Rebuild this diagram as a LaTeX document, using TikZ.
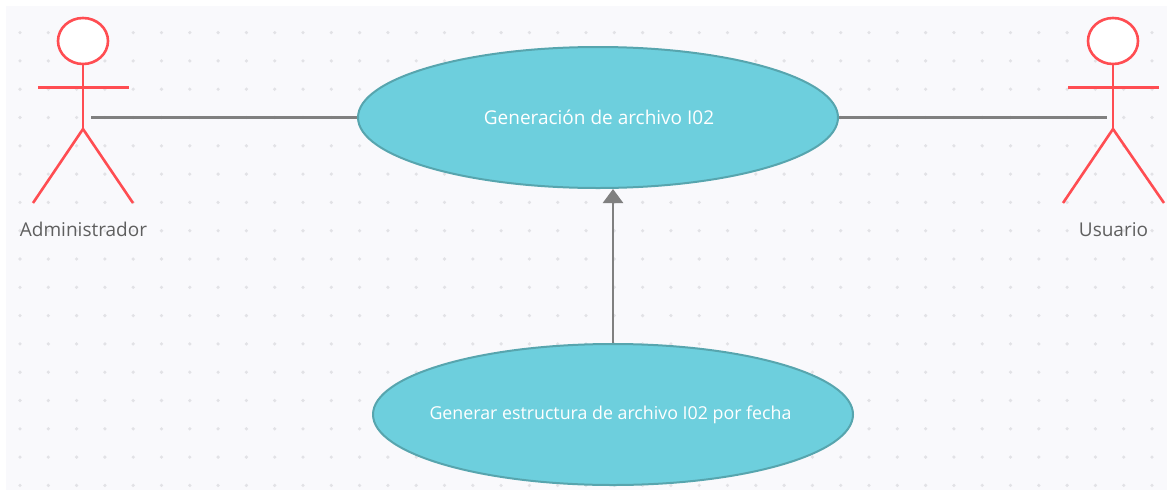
\documentclass[tikz,border=0pt]{standalone}
\usepackage{fontspec}
\setmainfont{Open Sans}
\usetikzlibrary{shapes.geometric,arrows.meta}
\definecolor{bgc}{HTML}{F9F9FC}
\definecolor{dotc}{HTML}{E2E2E6}
\definecolor{tealf}{HTML}{6DCFDD}
\definecolor{teald}{HTML}{57A5AE}
\definecolor{redl}{HTML}{FF4D52}
\definecolor{grayl}{HTML}{808080}
\definecolor{txt}{HTML}{5F5F5F}
\newcommand{\zerow}[2]{\raisebox{-1pt}{\makebox[0pt]{\hspace*{#1}#2}}}
\tikzset{
  usecase/.style={ellipse,draw=teald,fill=tealf,line width=2pt,minimum width=480pt,minimum height=141pt,inner sep=0pt,text=white},
  limb/.style={draw=redl,line width=2.6pt},
  headshape/.style={ellipse,draw=redl,fill=white,line width=2.6pt,minimum width=50pt,minimum height=46pt,inner sep=0pt},
  actorlabel/.style={text=txt,inner sep=0pt,font=\fontsize{19}{22}\selectfont},
  assoc/.style={draw=grayl,line width=2.4pt},
  incl/.style={draw=grayl,line width=2.4pt,-{Triangle[length=14pt,width=20pt]}}
}
\begin{document}
\begin{tikzpicture}[x=1pt,y=-1pt]
\useasboundingbox (0,0) rectangle (1167,493);
\fill[bgc] (6,6) rectangle (1167,490);
\foreach \i in {0,...,40}{\foreach \j in {0,...,16}{
  \fill[dotc] ({20+28.3*\i},{32.6+28.3*\j}) circle (1.8pt);}}
% use cases
\node[usecase,font=\fontsize{19}{22}\selectfont] (main) at (598,117.5) {\zerow{2pt}{Generación de archivo I02}};
\node[usecase,font=\fontsize{17.8}{20}\selectfont] (gen) at (613,414.5) {\zerow{-5pt}{Generar estructura de archivo I02 por fecha}};
% left actor
\node[headshape] (headL) at (83,41) {};
\coordinate (hipL) at (83,129);
\coordinate (armLa) at (38,87.5);
\coordinate (armLb) at (129,87.5);
\coordinate (footLa) at (33,203);
\coordinate (footLb) at (133,203);
\coordinate (handL) at (91,117.5);
\draw[limb] (headL.south) -- (hipL);
\draw[limb] (armLa) -- (armLb);
\draw[limb] (footLa) -- (hipL) -- (footLb);
\node[actorlabel] (admin) at (83.5,229.5) {Administrador};
% right actor
\node[headshape] (headR) at (1113,41) {};
\coordinate (hipR) at (1113,129);
\coordinate (armRa) at (1068,87.5);
\coordinate (armRb) at (1159,87.5);
\coordinate (footRa) at (1063,203);
\coordinate (footRb) at (1164,203);
\coordinate (handR) at (1107,117.5);
\draw[limb] (headR.south) -- (hipR);
\draw[limb] (armRa) -- (armRb);
\draw[limb] (footRa) -- (hipR) -- (footRb);
\node[actorlabel] (user) at (1113.5,230) {Usuario};
% connectors
\draw[assoc] (handL) -- (main.west);
\draw[assoc] (main.east) -- (handR);
\draw[incl] (gen.north) -- (main.south -| gen.north);
\end{tikzpicture}
\end{document}
